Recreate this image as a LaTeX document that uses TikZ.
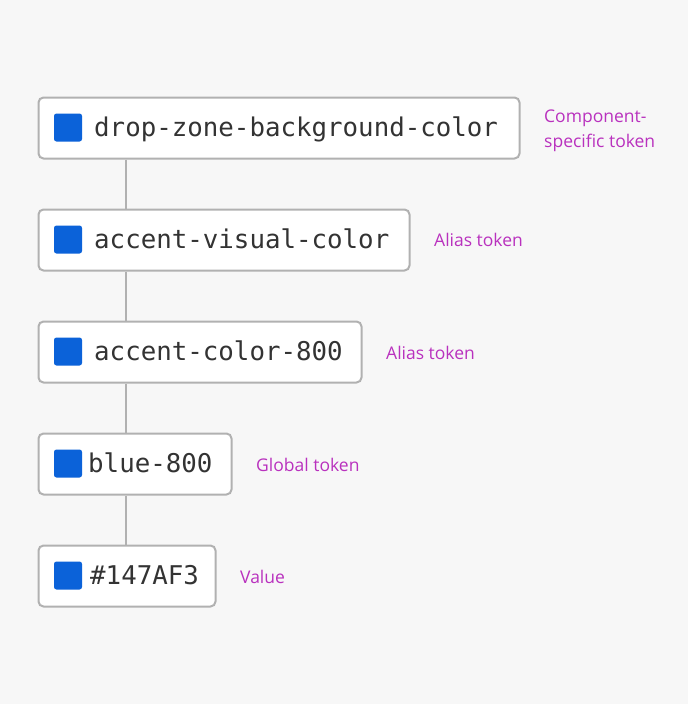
\documentclass[tikz,border=0pt]{standalone}
\usepackage{fontspec}
\setmainfont{Open Sans}
\newfontfamily\codefont{DejaVu Sans Mono}
\definecolor{bg}{HTML}{F7F7F7}
\definecolor{edge}{HTML}{B1B1B1}
\definecolor{swatch}{HTML}{0B62D9}
\definecolor{lab}{HTML}{B931BE}
\definecolor{ink}{HTML}{333333}
\tikzset{
  tokenbox/.style={draw=edge, line width=2pt, fill=white, rounded corners=5pt,
    minimum height=61pt, anchor=west, inner sep=0pt},
  swatchbox/.style={fill=swatch, rounded corners=2.5pt, minimum size=28pt, inner sep=0pt},
  code/.style={anchor=base west, inner sep=0pt, text=ink,
    font=\codefont\fontsize{25.8}{30}\selectfont},
  tag/.style={anchor=base west, inner sep=0pt, text=lab,
    font=\fontsize{17.5}{24.5}\selectfont, align=left},
  link/.style={draw=edge, line width=2pt}
}
\begin{document}
\begin{tikzpicture}[x=1pt,y=-1pt]
\useasboundingbox[fill=bg] (0,0) rectangle (688,704);
% boxes
\node[tokenbox, minimum width=481pt] (b1) at (37.5,128) {};
\node[tokenbox, minimum width=371pt] (b2) at (37.5,240) {};
\node[tokenbox, minimum width=323pt] (b3) at (37.5,352) {};
\node[tokenbox, minimum width=193pt] (b4) at (37.5,464) {};
\node[tokenbox, minimum width=177pt] (b5) at (37.5,576) {};
% connectors
\draw[link] ([xshift=88.5pt]b1.south west) -- ([xshift=88.5pt]b2.north west);
\draw[link] ([xshift=88.5pt]b2.south west) -- ([xshift=88.5pt]b3.north west);
\draw[link] ([xshift=88.5pt]b3.south west) -- ([xshift=88.5pt]b4.north west);
\draw[link] ([xshift=88.5pt]b4.south west) -- ([xshift=88.5pt]b5.north west);
% swatches
\node[swatchbox] (s1) at (68,127.5) {};
\node[swatchbox] (s2) at (68,239.5) {};
\node[swatchbox] (s3) at (68,351.5) {};
\node[swatchbox] (s4) at (68,463.5) {};
\node[swatchbox] (s5) at (68,575.5) {};
% code texts
\node[code] (t1) at (94,136) {drop-zone-background-color};
\node[code] (t2) at (94,248) {accent-visual-color};
\node[code] (t3) at (94,360) {accent-color-800};
\node[code] (t4) at (88,472) {blue-800};
\node[code] (t5) at (90,584) {\#147AF3};
% labels
\node[tag] (l1) at (544,147) {Component-\\specific token};
\node[tag] (l2) at (434,246) {Alias token};
\node[tag] (l3) at (386,359) {Alias token};
\node[tag] (l4) at (256,471) {Global token};
\node[tag] (l5) at (240,583) {Value};
\end{tikzpicture}
\end{document}
